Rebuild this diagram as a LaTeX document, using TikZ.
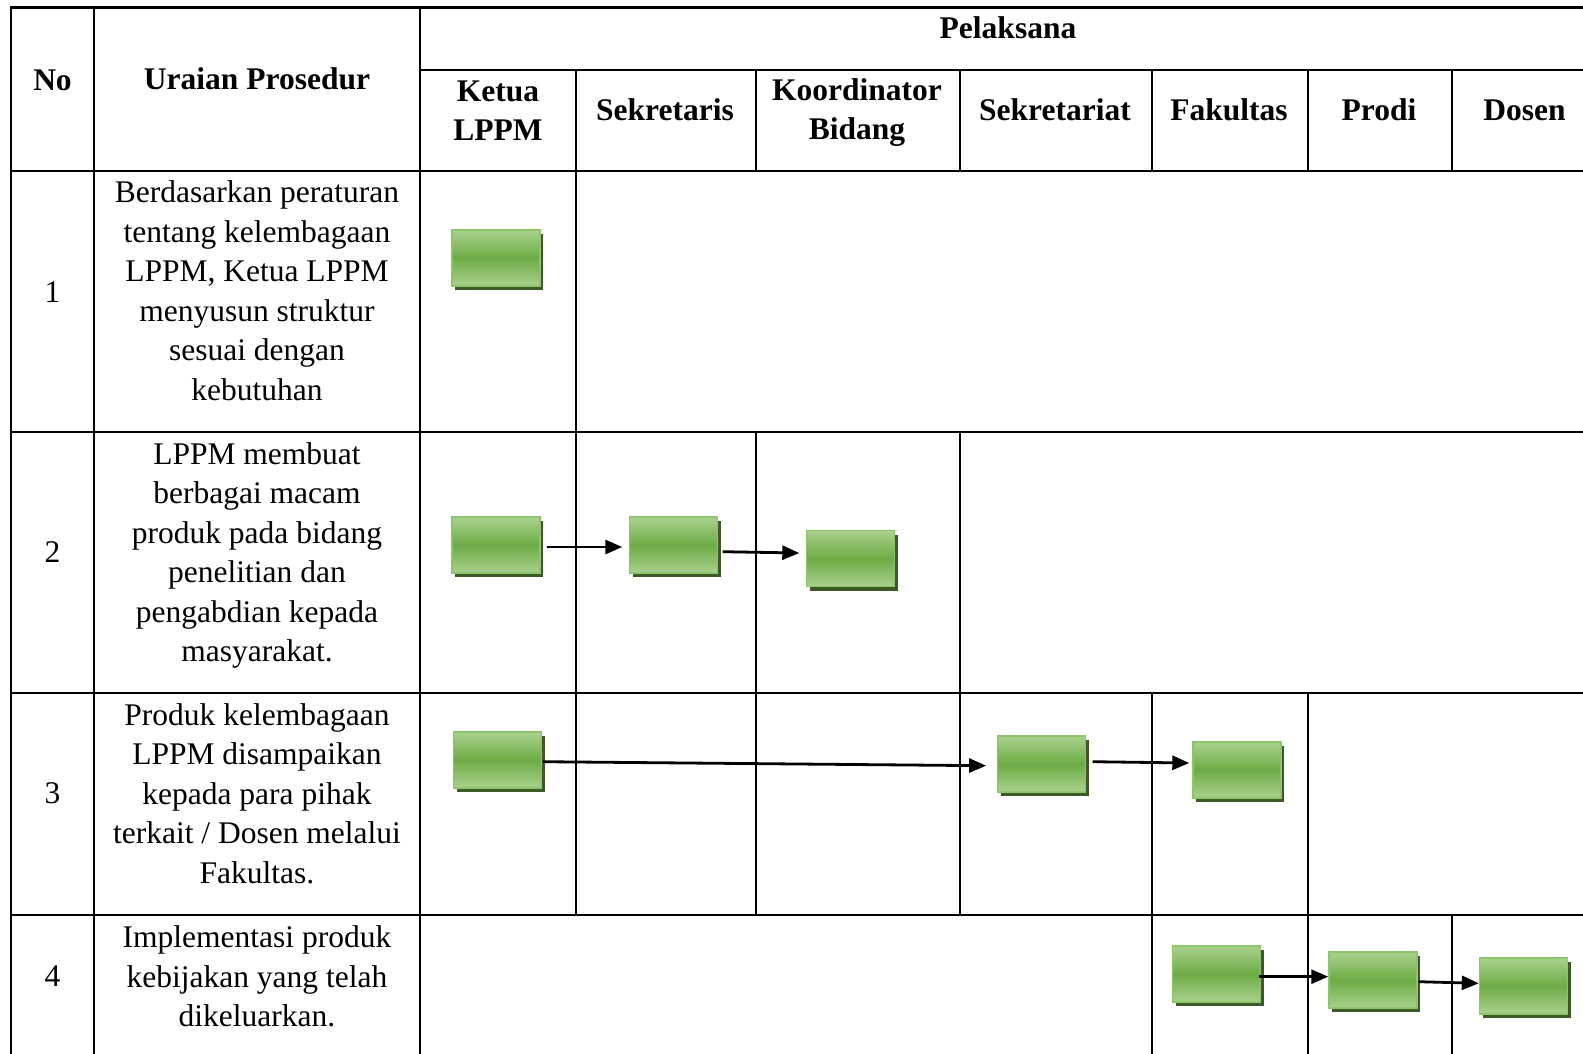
\documentclass[tikz,border=0pt]{standalone}
\usepackage{fontspec}
\setmainfont{Liberation Serif}
\usetikzlibrary{arrows.meta,shadows}
\definecolor{glight}{HTML}{A9D18E}
\definecolor{gmid}{HTML}{6EAB44}
\definecolor{gedge}{HTML}{8CC56B}
\definecolor{gdark}{HTML}{3B5A25}
\tikzset{
  grid/.style={line width=2.6pt, line cap=rect},
  txt/.style={font=\fontsize{31.5}{39.5}\selectfont, align=center, inner sep=0pt},
  hd/.style={txt, font=\fontsize{31.5}{39}\selectfont\bfseries},
  gbox/.style={minimum width=88pt, minimum height=56pt, inner sep=0pt,
    draw=gedge, line width=1.4pt, top color=glight, bottom color=glight, middle color=gmid,
    drop shadow={shadow xshift=3pt, shadow yshift=-4pt, fill=gdark, opacity=1}},
  arr/.style={line width=2.8pt, -{Triangle[length=17pt,width=14pt]}}
}
\begin{document}
\begin{tikzpicture}[x=1pt,y=-1pt]
\useasboundingbox[fill=white] (0,0) rectangle (1583,1053);
% table grid
\draw[grid] (11,1060) -- (11,7.3) -- (1590,7.3);
\draw[grid] (94,7.3) -- (94,1060);
\draw[grid] (420,7.3) -- (420,1060);
\draw[grid] (420,70) -- (1590,70);
\foreach \yy in {171,432,693,915} \draw[grid] (11,\yy) -- (1590,\yy);
\draw[grid] (576,70) -- (576,915);
\draw[grid] (756,70) -- (756,171);
\draw[grid] (756,432) -- (756,915);
\draw[grid] (960,70) -- (960,171);
\draw[grid] (960,432) -- (960,915);
\draw[grid] (1152,70) -- (1152,171);
\draw[grid] (1152,693) -- (1152,1060);
\draw[grid] (1308,70) -- (1308,171);
\draw[grid] (1308,693) -- (1308,1060);
\draw[grid] (1452,70) -- (1452,171);
\draw[grid] (1452,915) -- (1452,1060);
% header
\node[hd] (hno) at (52.5,80) {No};
\node[hd] (hur) at (257,79) {Uraian Prosedur};
\node[hd] (hpel) at (1008,28) {Pelaksana};
\node[hd] (hket) at (498,111) {Ketua\\LPPM};
\node[hd] (hsek) at (665,110) {Sekretaris};
\node[hd] (hkoo) at (857,112.5) {Koordinator\\Bidang};
\node[hd] (hsekt) at (1055,110) {Sekretariat};
\node[hd] (hfak) at (1229,110) {Fakultas};
\node[hd] (hpro) at (1379,110) {Prodi};
\node[hd] (hdos) at (1524.5,110) {Dosen};
% numbers
\node[txt] (n1) at (52.5,292) {1};
\node[txt] (n2) at (52.5,552) {2};
\node[txt] (n3) at (52.5,793.5) {3};
\node[txt] (n4) at (52.5,976) {4};
% descriptions
\node[txt] (d1) at (257,290.5) {Berdasarkan peraturan\\tentang kelembagaan\\LPPM, Ketua LPPM\\menyusun struktur\\sesuai dengan\\kebutuhan};
\node[txt] (d2) at (257,555.5) {LPPM membuat\\berbagai macam\\produk pada bidang\\penelitian dan\\pengabdian kepada\\masyarakat.};
\node[txt] (d3) at (257,793.5) {Produk kelembagaan\\LPPM disampaikan\\kepada para pihak\\terkait / Dosen melalui\\Fakultas.};
\node[txt] (d4) at (257,976.5) {Implementasi produk\\kebijakan yang telah\\dikeluarkan.};
% green boxes
\node[gbox] (b1) at (496,258) {};
\node[gbox] (b2a) at (496,545) {};
\node[gbox] (b2b) at (673.5,545) {};
\node[gbox] (b2c) at (850.5,558.5) {};
\node[gbox] (b3a) at (497.5,760) {};
\node[gbox] (b3b) at (1041.5,764) {};
\node[gbox] (b3c) at (1237,770) {};
\node[gbox] (b4a) at (1216.5,974) {};
\node[gbox] (b4b) at (1373,980) {};
\node[gbox] (b4c) at (1523.5,986) {};
% arrows
\draw[arr] ([shift={(6,2)}]b2a.east) -- ([shift={(-6.5,2)}]b2b.west);
\draw[arr] ([shift={(4.5,6.7)}]b2b.east) -- ([shift={(-6.5,-5.5)}]b2c.west);
\draw[arr] ([shift={(1,1.7)}]b3a.east) -- ([shift={(-10.7,1.7)}]b3b.west);
\draw[arr] ([shift={(6.5,-2.3)}]b3b.east) -- ([shift={(-3,-7)}]b3c.west);
\draw[arr] ([shift={(-2.5,2.7)}]b4a.east) -- ([shift={(0,-3.3)}]b4b.west);
\draw[arr] ([shift={(1,1.7)}]b4b.east) -- ([shift={(0,-2.7)}]b4c.west);
\end{tikzpicture}
\end{document}
